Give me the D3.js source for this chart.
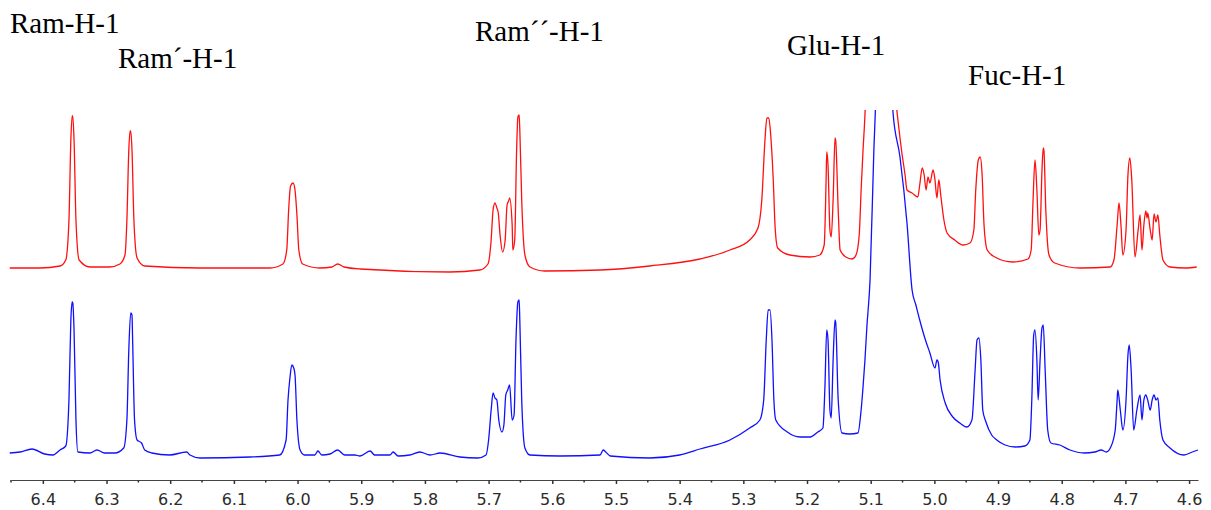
<!DOCTYPE html>
<html>
<head>
<meta charset="utf-8">
<script src="https://cdn.jsdelivr.net/npm/d3@7"></script>
<style>
  body { margin: 0; background: #fff; }
  svg { display: block; }
</style>
</head>
<body>
<svg id="nmrSvg"></svg>
<script>
"use strict";

// 1H NMR overlay, anomeric region (ppm, intensity in a.u. above each baseline)

// red trace (top)
const redSpectrum = [
  [6.452, 0], [6.405, 0], [6.373, 2], [6.364, 8], [6.359, 48], [6.356, 128], [6.354, 152], [6.353, 152],
  [6.351, 128], [6.348, 48], [6.343, 8], [6.326, 1], [6.295, 1], [6.279, 4], [6.271, 13], [6.268, 48],
  [6.265, 118], [6.263, 137], [6.262, 137], [6.260, 118], [6.257, 48], [6.252, 10], [6.240, 2], [6.153, 0],
  [6.043, 0], [6.023, 4], [6.017, 18], [6.014, 58], [6.011, 82], [6.007, 85], [6.004, 78], [6.001, 53],
  [5.998, 18], [5.992, 4], [5.965, 0], [5.946, 1], [5.937, 4], [5.927, 1], [5.902, -1], [5.761, -4],
  [5.714, -2], [5.701, 4], [5.696, 28], [5.693, 58], [5.690, 65], [5.687, 60], [5.685, 56], [5.682, 33],
  [5.678, 16], [5.674, 28], [5.671, 63], [5.668, 68], [5.667, 70], [5.663, 43], [5.662, 18], [5.659, 28],
  [5.656, 118], [5.654, 151], [5.652, 153], [5.651, 138], [5.648, 68], [5.643, 13], [5.635, 1], [5.612, -3],
  [5.525, -2], [5.447, 2], [5.368, 9], [5.321, 18], [5.290, 28], [5.277, 40], [5.271, 68], [5.266, 128],
  [5.263, 150], [5.260, 150], [5.257, 133], [5.253, 88], [5.250, 40], [5.246, 20], [5.227, 13], [5.195, 11],
  [5.180, 13], [5.173, 23], [5.170, 88], [5.169, 116], [5.167, 103], [5.164, 38], [5.162, 31], [5.159, 68],
  [5.156, 130], [5.155, 128], [5.151, 58], [5.148, 18], [5.139, 11], [5.129, 9], [5.123, 13], [5.118, 33],
  [5.115, 78], [5.112, 118], [5.109, 153], [5.106, 208], [5.085, 318], [5.059, 158], [5.051, 115], [5.046, 93],
  [5.043, 78], [5.035, 75], [5.026, 71], [5.023, 83], [5.019, 100], [5.016, 93], [5.013, 78], [5.010, 91],
  [5.007, 85], [5.002, 98], [4.999, 88], [4.996, 70], [4.993, 88], [4.990, 73], [4.985, 48], [4.980, 35],
  [4.968, 28], [4.955, 23], [4.944, 25], [4.938, 38], [4.935, 78], [4.931, 108], [4.928, 111], [4.925, 93],
  [4.922, 43], [4.917, 18], [4.905, 11], [4.877, 6], [4.853, 9], [4.848, 18], [4.845, 68], [4.842, 108],
  [4.839, 78], [4.836, 33], [4.834, 38], [4.831, 98], [4.829, 120], [4.828, 118], [4.825, 58], [4.820, 13],
  [4.811, 5], [4.771, 0], [4.724, 1], [4.718, 8], [4.713, 43], [4.710, 65], [4.707, 43], [4.704, 13],
  [4.699, 38], [4.696, 93], [4.693, 110], [4.690, 88], [4.685, 11], [4.680, 38], [4.677, 53], [4.674, 18],
  [4.671, 43], [4.668, 57], [4.666, 50], [4.665, 55], [4.661, 38], [4.658, 28], [4.655, 54], [4.652, 46],
  [4.649, 53], [4.646, 33], [4.641, 8], [4.630, 1], [4.606, 0], [4.588, 1]
];

// blue trace (bottom)
const blueSpectrum = [
  [6.452, 2], [6.436, 3], [6.417, 6], [6.397, 1], [6.384, 0], [6.373, 5], [6.364, 9], [6.359, 55],
  [6.356, 135], [6.354, 153], [6.353, 152], [6.351, 125], [6.348, 35], [6.345, 3], [6.326, 2], [6.315, 5],
  [6.303, 2], [6.287, 2], [6.273, 7], [6.268, 35], [6.265, 105], [6.262, 142], [6.260, 140], [6.259, 115],
  [6.256, 35], [6.252, 15], [6.245, 12], [6.240, 5], [6.229, 2], [6.201, 0], [6.174, 3], [6.169, 0],
  [6.153, -3], [6.075, -2], [6.028, 0], [6.018, 15], [6.015, 55], [6.012, 77], [6.009, 90], [6.006, 87],
  [6.004, 80], [6.001, 35], [5.996, 5], [5.989, 0], [5.973, 0], [5.968, 4], [5.962, 0], [5.949, 1],
  [5.937, 5], [5.926, 0], [5.910, 0], [5.902, -1], [5.886, 4], [5.879, 0], [5.855, 0], [5.850, 3],
  [5.842, -1], [5.824, 0], [5.808, 3], [5.792, 0], [5.776, 2], [5.745, -2], [5.717, -3], [5.704, 0],
  [5.700, 15], [5.696, 45], [5.693, 62], [5.690, 57], [5.687, 55], [5.684, 35], [5.679, 23], [5.676, 30],
  [5.673, 60], [5.670, 65], [5.667, 70], [5.663, 35], [5.660, 40], [5.657, 115], [5.654, 153], [5.652, 155],
  [5.651, 135], [5.648, 55], [5.643, 7], [5.635, 0], [5.588, -1], [5.525, 0], [5.520, 5], [5.516, 3],
  [5.509, -1], [5.447, -3], [5.400, 0], [5.368, 6], [5.321, 15], [5.290, 27], [5.274, 35], [5.268, 55],
  [5.264, 115], [5.261, 145], [5.258, 145], [5.255, 115], [5.252, 55], [5.249, 35], [5.231, 23], [5.211, 18],
  [5.195, 18], [5.183, 23], [5.175, 27], [5.172, 65], [5.169, 125], [5.167, 115], [5.164, 45], [5.162, 37],
  [5.159, 95], [5.156, 135], [5.155, 133], [5.151, 55], [5.145, 22], [5.133, 21], [5.120, 22], [5.115, 45],
  [5.112, 68], [5.109, 95], [5.106, 128], [5.101, 175], [5.095, 305], [5.089, 405], [5.079, 505], [5.071, 405],
  [5.065, 343], [5.054, 298], [5.043, 232], [5.035, 165], [5.029, 150], [5.023, 135], [5.015, 117], [5.007, 102],
  [4.999, 87], [4.996, 95], [4.994, 93], [4.991, 75], [4.983, 52], [4.971, 38], [4.960, 32], [4.949, 28],
  [4.941, 35], [4.936, 85], [4.933, 115], [4.930, 117], [4.927, 95], [4.924, 45], [4.919, 33], [4.910, 20],
  [4.902, 15], [4.889, 10], [4.873, 8], [4.858, 9], [4.850, 15], [4.847, 55], [4.844, 120], [4.842, 125],
  [4.839, 95], [4.837, 55], [4.834, 95], [4.831, 127], [4.829, 130], [4.826, 85], [4.822, 25], [4.817, 12],
  [4.803, 10], [4.787, 5], [4.765, 2], [4.748, 3], [4.738, 5], [4.730, 3], [4.723, 8], [4.716, 25],
  [4.713, 55], [4.712, 65], [4.708, 45], [4.704, 25], [4.699, 55], [4.696, 100], [4.694, 110], [4.691, 85],
  [4.687, 25], [4.682, 45], [4.677, 60], [4.674, 35], [4.671, 55], [4.668, 60], [4.665, 55], [4.661, 45],
  [4.658, 55], [4.655, 60], [4.652, 55], [4.649, 57], [4.646, 35], [4.641, 15], [4.630, 7], [4.608, 0],
  [4.595, 3], [4.586, 5]
];

// x axis
const majorTicks = [6.4, 6.3, 6.2, 6.1, 6.0, 5.9, 5.8, 5.7, 5.6, 5.5, 5.4, 5.3, 5.2, 5.1, 5.0, 4.9, 4.8, 4.7, 4.6];
const minorTicks = [6.45, 6.35, 6.25, 6.15, 6.05, 5.95, 5.85, 5.75, 5.65, 5.55, 5.45, 5.35, 5.25, 5.15, 5.05, 4.95, 4.85, 4.75, 4.65];

// peak assignments
const peakLabels = ["Ram-H-1", "Ram\u00b4-H-1", "Ram\u00b4\u00b4-H-1", "Glu-H-1", "Fuc-H-1"];

// layout
const width = 1211, height = 510;
const axisY = 480;
const plotTop = 110;
const labelPos = [[10, 33], [118, 68], [475, 41], [787, 55], [968, 85]];

const xScale = d3.scaleLinear()
  .domain([6.45, 4.586])
  .range([11, 1198]);

const yRed = d3.scaleLinear()
  .domain([0, 158])
  .range([268, 110]);

const yBlue = d3.scaleLinear()
  .domain([0, 158])
  .range([455, 297]);

const svg = d3.select("#nmrSvg")
  .attr("width", width)
  .attr("height", height);

svg.append("defs").append("clipPath")
  .attr("id", "plotClip")
  .append("rect")
  .attr("x", 0)
  .attr("y", plotTop)
  .attr("width", width)
  .attr("height", axisY - plotTop - 2);

const traces = svg.append("g").attr("clip-path", "url(#plotClip)");

function drawTrace(data, yScale, color) {
  const line = d3.line()
    .x(d => xScale(d[0]))
    .y(d => yScale(d[1]))
    .curve(d3.curveMonotoneX);

  traces.append("path")
    .datum(data)
    .attr("fill", "none")
    .attr("stroke", color)
    .attr("stroke-width", 1.3)
    .attr("stroke-linejoin", "round")
    .attr("d", line);
}

drawTrace(redSpectrum, yRed, "#ff1010");
drawTrace(blueSpectrum, yBlue, "#1010ff");

// axis with minor ticks
const xAxis = svg.append("g")
  .attr("transform", `translate(0,${axisY})`)
  .call(d3.axisBottom(xScale)
    .tickValues(majorTicks)
    .tickFormat(d3.format(".1f"))
    .tickSize(4)
    .tickSizeOuter(0)
    .tickPadding(10));

xAxis.select(".domain").attr("stroke", "#444").attr("stroke-width", 1.2);
xAxis.selectAll(".tick line").attr("stroke", "#333").attr("stroke-width", 1.5);
xAxis.selectAll(".tick text")
  .attr("fill", "#2b2b2b")
  .style("font-family", "DejaVu Sans, Verdana, sans-serif")
  .style("font-size", "16px");

xAxis.selectAll(".minor")
  .data(minorTicks)
  .join("line")
  .attr("class", "minor")
  .attr("x1", d => xScale(d))
  .attr("x2", d => xScale(d))
  .attr("y1", 0)
  .attr("y2", 2.5)
  .attr("stroke", "#333")
  .attr("stroke-width", 1.5);

// peak labels
svg.append("g")
  .selectAll("text")
  .data(peakLabels)
  .join("text")
  .attr("x", (d, i) => labelPos[i][0])
  .attr("y", (d, i) => labelPos[i][1])
  .style("font-family", "Liberation Serif, Times New Roman, serif")
  .style("font-size", "29px")
  .attr("fill", "#000")
  .text(d => d);
</script>
</body>
</html>
